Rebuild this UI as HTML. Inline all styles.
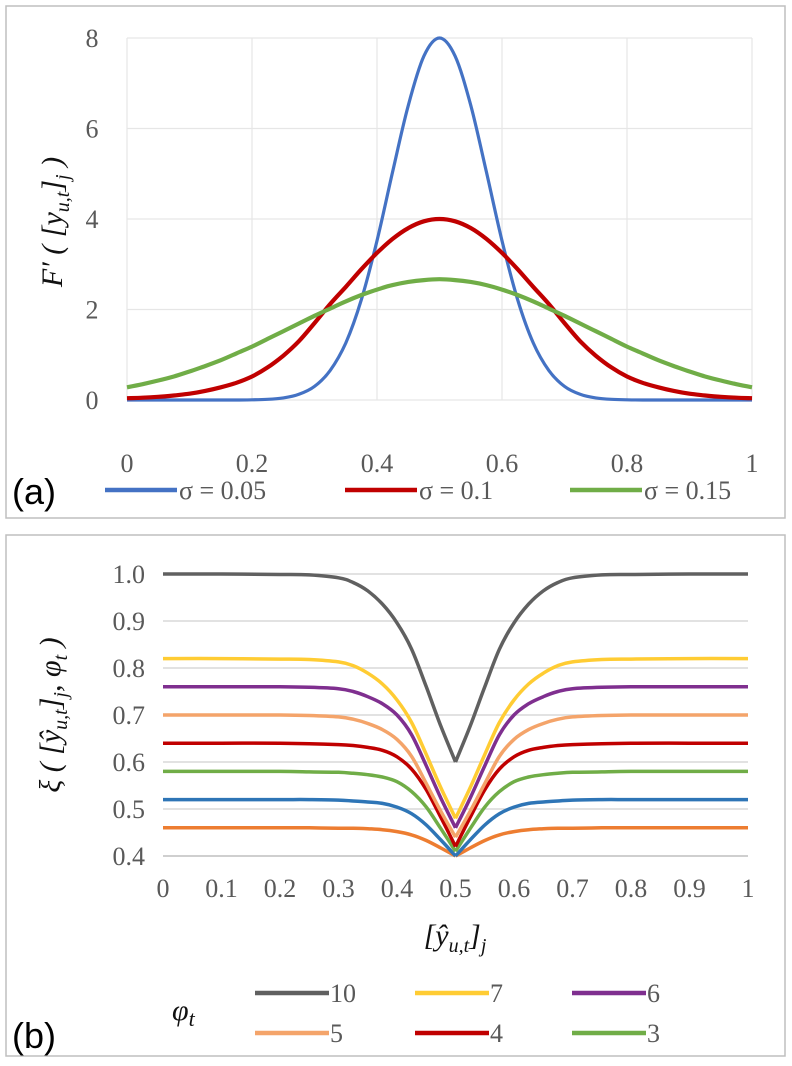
<!DOCTYPE html>
<html><head><meta charset="utf-8">
<style>
html,body{margin:0;padding:0;background:#fff;}
svg{display:block;}
text.tick,text.leg{font-family:"Liberation Serif","DejaVu Serif",serif;font-size:26px;fill:#595959;}
.math{font-family:"Liberation Serif",serif;font-style:italic;fill:#111;}
.lab{font-family:"Liberation Sans",sans-serif;font-size:36px;fill:#000;}
</style></head>
<body>
<svg id="chart" width="792" height="1066" viewBox="0 0 792 1066" xmlns="http://www.w3.org/2000/svg">
<rect x="6" y="6" width="779" height="512" fill="#fff" stroke="#bfbfbf" stroke-width="1.5"/>
<rect x="6" y="535" width="779" height="521" fill="#fff" stroke="#bfbfbf" stroke-width="1.5"/>
<g id="ga"></g>
<g id="gb"></g>
<text class="lab" x="12" y="504">(a)</text>
<text class="lab" x="12" y="1048">(b)</text>
<text class="math" font-size="30" transform="translate(62,222) rotate(-90)" text-anchor="middle">F′ ( [y<tspan font-size="20" dy="7">u,t</tspan><tspan dy="-7">]</tspan><tspan font-size="20" dy="7">j</tspan><tspan dy="-7"> )</tspan></text>
<text class="math" font-size="30" transform="translate(60,715) rotate(-90)" text-anchor="middle">ξ ( [ŷ<tspan font-size="20" dy="7">u,t</tspan><tspan dy="-7">]</tspan><tspan font-size="20" dy="7">j</tspan><tspan dy="-7">, φ</tspan><tspan font-size="20" dy="7">t</tspan><tspan dy="-7"> )</tspan></text>
<text class="math" font-size="30" x="455" y="945" text-anchor="middle">[ŷ<tspan font-size="20" dy="7">u,t</tspan><tspan dy="-7">]</tspan><tspan font-size="20" dy="7">j</tspan></text>
<text class="math" font-size="30" x="172" y="1020">φ<tspan font-size="22" dy="6">t</tspan></text>
</svg>
<script>
// ---------- Panel (a) data ----------
const aX = [0,0.025,0.05,0.075,0.1,0.125,0.15,0.175,0.2,0.225,0.25,0.275,0.3,0.325,0.35,0.375,0.4,0.425,0.45,0.475,0.5,0.525,0.55,0.575,0.6,0.625,0.65,0.675,0.7,0.725,0.75,0.775,0.8,0.825,0.85,0.875,0.9,0.925,0.95,0.975,1];
const aS1 = [0,0,0,0,0,0,0,0,0.005,0.016,0.047,0.125,0.30,0.65,1.26,2.22,3.52,5.04,6.51,7.60,8.0,7.60,6.51,5.04,3.52,2.22,1.26,0.65,0.30,0.125,0.047,0.016,0.005,0,0,0,0,0,0,0,0];
const aS2 = [0.04,0.05,0.07,0.10,0.14,0.20,0.28,0.38,0.52,0.72,0.98,1.30,1.70,2.12,2.50,2.89,3.25,3.56,3.80,3.95,4.0,3.95,3.80,3.56,3.25,2.89,2.50,2.12,1.70,1.30,0.98,0.72,0.52,0.38,0.28,0.20,0.14,0.10,0.07,0.05,0.04];
const aS3 = [0.28,0.35,0.43,0.52,0.63,0.75,0.88,1.03,1.18,1.35,1.52,1.69,1.86,2.02,2.18,2.32,2.44,2.54,2.61,2.65,2.67,2.65,2.61,2.54,2.44,2.32,2.18,2.02,1.86,1.69,1.52,1.35,1.18,1.03,0.88,0.75,0.63,0.52,0.43,0.35,0.28];
const aXTicks = ["0","0.2","0.4","0.6","0.8","1"];
const aYTicks = ["0","2","4","6","8"];
const aNames = ["σ = 0.05","σ = 0.1","σ = 0.15"];

// ---------- Panel (b) data ----------
const bX = [0,0.1,0.2,0.25,0.3,0.325,0.35,0.375,0.4,0.425,0.45,0.475,0.5,0.525,0.55,0.575,0.6,0.625,0.65,0.675,0.7,0.75,0.8,0.9,1];
const bPhi10 = [1,1,0.999,0.998,0.992,0.982,0.964,0.936,0.896,0.84,0.76,0.676,0.6,0.676,0.76,0.84,0.896,0.936,0.964,0.982,0.992,0.998,0.999,1,1];
const bPhi7 = [0.82,0.82,0.819,0.818,0.813,0.805,0.789,0.766,0.732,0.684,0.616,0.545,0.48,0.545,0.616,0.684,0.732,0.766,0.789,0.805,0.813,0.818,0.819,0.82,0.82];
const bPhi6 = [0.76,0.76,0.76,0.759,0.756,0.75,0.739,0.724,0.70,0.658,0.592,0.523,0.46,0.523,0.592,0.658,0.70,0.724,0.739,0.75,0.756,0.759,0.76,0.76,0.76];
const bPhi5 = [0.7,0.7,0.7,0.699,0.696,0.691,0.682,0.669,0.648,0.612,0.554,0.495,0.44,0.495,0.554,0.612,0.648,0.669,0.682,0.691,0.696,0.699,0.7,0.7,0.7];
const bPhi4 = [0.64,0.64,0.64,0.639,0.637,0.635,0.631,0.625,0.611,0.585,0.541,0.482,0.42,0.482,0.541,0.585,0.611,0.625,0.631,0.635,0.637,0.639,0.64,0.64,0.64];
const bPhi3 = [0.58,0.58,0.58,0.579,0.578,0.576,0.573,0.568,0.558,0.537,0.504,0.458,0.41,0.458,0.504,0.537,0.558,0.568,0.573,0.576,0.578,0.579,0.58,0.58,0.58];
const bPhi2 = [0.52,0.52,0.52,0.52,0.519,0.517,0.515,0.512,0.504,0.49,0.466,0.434,0.40,0.434,0.466,0.49,0.504,0.512,0.515,0.517,0.519,0.52,0.52,0.52,0.52];
const bPhi1 = [0.46,0.46,0.46,0.46,0.459,0.459,0.458,0.456,0.452,0.445,0.433,0.417,0.40,0.417,0.433,0.445,0.452,0.456,0.458,0.459,0.459,0.46,0.46,0.46,0.46];
const bXTicks = ["0","0.1","0.2","0.3","0.4","0.5","0.6","0.7","0.8","0.9","1"];
const bYTicks = ["0.4","0.5","0.6","0.7","0.8","0.9","1.0"];
const bLegendNames = ["10","7","6","5","4","3"];

const NS = "http://www.w3.org/2000/svg";
function mk(tag, attrs, parent){const e=document.createElementNS(NS,tag);for(const k in attrs)e.setAttribute(k,attrs[k]);parent.appendChild(e);return e;}
function crPath(pts){
  let d="M"+pts[0][0].toFixed(1)+","+pts[0][1].toFixed(1);
  for(let i=0;i<pts.length-1;i++){
    const p0=pts[Math.max(0,i-1)],p1=pts[i],p2=pts[i+1],p3=pts[Math.min(pts.length-1,i+2)];
    const c1=[p1[0]+(p2[0]-p0[0])/6,p1[1]+(p2[1]-p0[1])/6];
    const c2=[p2[0]-(p3[0]-p1[0])/6,p2[1]-(p3[1]-p1[1])/6];
    d+=" C"+c1[0].toFixed(1)+","+c1[1].toFixed(1)+" "+c2[0].toFixed(1)+","+c2[1].toFixed(1)+" "+p2[0].toFixed(1)+","+p2[1].toFixed(1);
  }
  return d;
}
const SERIF='"Liberation Serif","DejaVu Serif",serif';

// ----- Panel a -----
const ga=document.getElementById('ga');
const axX=v=>127+v*625, axY=v=>400-v*45.25;
for(let i=0;i<aXTicks.length;i++){
  const v=parseFloat(aXTicks[i]);
  const g=mk('line',{x1:axX(v),x2:axX(v),y1:axY(8),y2:axY(0),stroke:'#e6e6e6','stroke-width':1.2},ga);
  
  
  const t=mk('text',{x:axX(v),y:472,'text-anchor':'middle',class:'tick','font-family':SERIF},ga);t.textContent=aXTicks[i];
  
  
}
for(let i=0;i<aYTicks.length;i++){
  const v=parseFloat(aYTicks[i]);
  const g=mk('line',{x1:axX(0),x2:axX(1),y1:axY(v),y2:axY(v),stroke:'#e6e6e6','stroke-width':1.2},ga);
  
  
  const t=mk('text',{x:92,y:axY(v)+9,'text-anchor':'middle',class:'tick','font-family':SERIF},ga);t.textContent=aYTicks[i];
  
  
}
const aSeries=[aS1,aS2,aS3], aColors=['#4472c4','#c00000','#70ad47'], aW=[3.2,4.2,4.2];
const aLegX=[105,345,570];
for(let s=0;s<3;s++){
  const pts=aX.map((x,i)=>[axX(x),axY(aSeries[s][i])]);
  const p=mk('path',{d:crPath(pts),fill:'none',stroke:aColors[s],'stroke-width':aW[s],'stroke-linejoin':'round'},ga);
  
  
  const l=mk('line',{x1:aLegX[s],x2:aLegX[s]+72,y1:490,y2:490,stroke:aColors[s],'stroke-width':4.5},ga);
  
  
  const t=mk('text',{x:aLegX[s]+74,y:499,class:'leg','font-family':SERIF},ga);t.textContent=aNames[s];
  
  
}

// ----- Panel b -----
const gb=document.getElementById('gb');
const bxX=v=>163+v*585, byY=v=>856-(v-0.4)*470;
for(let i=0;i<bYTicks.length;i++){
  const v=parseFloat(bYTicks[i]);
  const g=mk('line',{x1:bxX(0),x2:bxX(1),y1:byY(v),y2:byY(v),stroke:i==0?'#bfbfbf':'#d9d9d9','stroke-width':1.5},gb);
  
  
  const t=mk('text',{x:145,y:byY(v)+9,'text-anchor':'end',class:'tick','font-family':SERIF},gb);t.textContent=bYTicks[i];
  
  
}
for(let i=0;i<bXTicks.length;i++){
  const v=parseFloat(bXTicks[i]);
  const t=mk('text',{x:bxX(v),y:897,'text-anchor':'middle',class:'tick','font-family':SERIF},gb);t.textContent=bXTicks[i];
  
  
}
const bSeries=[bPhi1,bPhi2,bPhi3,bPhi4,bPhi5,bPhi6,bPhi7,bPhi10];
const bColors=['#ed7d31','#2e75b6','#70ad47','#c00000','#f4a46a','#7f2f8f','#ffcc33','#606060'];
const mid=bX.indexOf(0.5);
for(let s=0;s<bSeries.length;s++){
  const pts=bX.map((x,i)=>[bxX(x),byY(bSeries[s][i])]);
  const d=crPath(pts.slice(0,mid+1))+" "+crPath(pts.slice(mid));
  const p=mk('path',{d:d,fill:'none',stroke:bColors[s],'stroke-width':3.5,'stroke-linejoin':'round'},gb);
  
  
}
const legColors=['#606060','#ffcc33','#7f2f8f','#f4a46a','#c00000','#70ad47'];
const legXs=[255,415,572];
for(let i=0;i<6;i++){
  const x=legXs[i%3], y=i<3?993:1033;
  const l=mk('line',{x1:x,x2:x+74,y1:y,y2:y,stroke:legColors[i],'stroke-width':4.5},gb);
  
  
  const t=mk('text',{x:x+75,y:y+9,class:'leg','font-family':SERIF},gb);t.textContent=bLegendNames[i];
  
  
}
</script>
</body></html>
